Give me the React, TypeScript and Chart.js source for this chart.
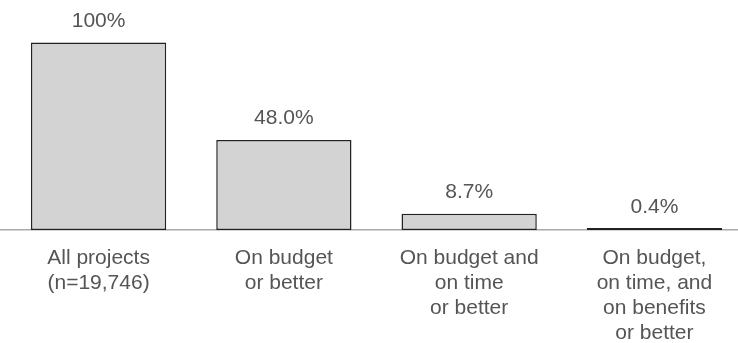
import React, { useEffect, useRef } from "react";
import { Chart, registerables } from "chart.js";

Chart.register(...registerables);

const categories: string[][] = [
  ["All projects", "(n=19,746)"],
  ["On budget", "or better"],
  ["On budget and", "on time", "or better"],
  ["On budget,", "on time, and", "on benefits", "or better"],
];
const values: number[] = [100, 48.0, 8.7, 0.4];
const valueLabels: string[] = ["100%", "48.0%", "8.7%", "0.4%"];

const FONT = '"Liberation Sans", Arial, Helvetica, sans-serif';
const TEXT = "#555555";

const valueLabelPlugin = {
  id: "valueLabels",
  afterDatasetsDraw(chart: any) {
    const { ctx } = chart;
    const meta = chart.getDatasetMeta(0);
    ctx.save();
    ctx.font = `21px ${FONT}`;
    ctx.fillStyle = TEXT;
    ctx.textAlign = "center";
    ctx.textBaseline = "alphabetic";
    meta.data.forEach((bar: any, i: number) => {
      ctx.fillText(valueLabels[i], bar.x, bar.y - 15.5);
    });
    ctx.restore();
  },
};

export default function App() {
  const ref = useRef<HTMLCanvasElement | null>(null);
  useEffect(() => {
    if (!ref.current) return;
    const chart = new Chart(ref.current, {
      type: "bar",
      data: {
        datasets: [
          {
            data: values.map((v, i) => ({ x: i, y: v })),
            backgroundColor: "#d3d3d3",
            borderColor: "#222222",
            borderWidth: 1.5,
            borderSkipped: false,
            minBarLength: 2,
            categoryPercentage: 1,
            barPercentage: 0.73,
          } as any,
        ],
      },
      options: {
        animation: false,
        responsive: true,
        maintainAspectRatio: false,
        layout: { padding: { left: 0, right: 0, top: 0, bottom: -18.3 } },
        plugins: { legend: { display: false }, tooltip: { enabled: false } },
        scales: {
          x: {
            type: "linear",
            offset: false,
            min: -0.532,
            max: 3.451,
            grid: { display: false, drawTicks: false, offset: false },
            border: { display: true, color: "#aaaaaa", width: 1.5 },
            afterBuildTicks: (scale: any) => {
              scale.ticks = categories.map((_, i) => ({ value: i }));
            },
            ticks: {
              autoSkip: false,
              maxRotation: 0,
              padding: 15,
              color: TEXT,
              font: { family: FONT, size: 21, lineHeight: 1.205 },
              callback: (v: any) => categories[Math.round(Number(v))] ?? "",
            },
          },
          y: {
            display: false,
            min: 0,
            max: 122.6,
          },
        },
      },
      plugins: [valueLabelPlugin],
    } as any);
    return () => chart.destroy();
  }, []);
  return (
    <div style={{ position: "absolute", left: 0, top: 0, width: 738, height: 343, background: "#fff" }}>
      <canvas ref={ref} />
    </div>
  );
}
